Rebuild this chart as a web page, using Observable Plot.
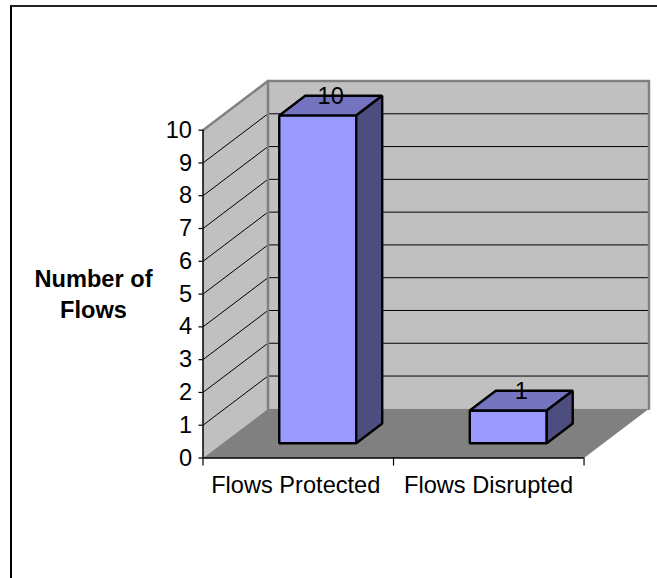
<!DOCTYPE html>
<html>
<head>
<meta charset="utf-8">
<script src="https://cdn.jsdelivr.net/npm/d3@7"></script>
<script src="https://cdn.jsdelivr.net/npm/@observablehq/plot@0.6"></script>
<style>
  html, body { margin: 0; padding: 0; background: #fff; overflow: hidden; }
  #chart-area { position: relative; width: 657px; height: 578px; overflow: hidden; }
  #chart-border { position: absolute; left: 10px; top: 5px; width: 700px; height: 700px;
    border-left: 2px solid #000; border-top: 2px solid #222; }
  #chart-area svg { position: absolute; left: 0; top: 0; }
</style>
</head>
<body>
<div id="chart-area"><div id="chart-border"></div></div>
<script>
const categories = ["Flows Protected", "Flows Disrupted"];
const values = [10, 1];
const valueTicks = [0, 1, 2, 3, 4, 5, 6, 7, 8, 9, 10];
const gridValues = [1, 2, 3, 4, 5, 6, 7, 8, 9];
const categoryEdges = [0, 1, 2];
const categoryCentres = [0.487, 1.499];

// Oblique projection: depth z in 0..1 shifts a point right and up, in data units.
const depthX = 0.341;
const depthY = 1.5;
const yMax = 10;
const xMax = categories.length;
const barInset = 0.298;
const barNear = 0.3;
const barFar = 0.7;

const P = (c, v, z = 0) => ({x: c + z * depthX, y: v + z * depthY});

const wallFill = "#c0c0c0";
const wallEdge = "#808080";
const floorFill = "#808080";
const frontFill = "#9999ff";
const topFill = "#7373bf";
const sideFill = "#4d4d80";
const labelSize = 23.6;

const face = (points, fill, options = {}) =>
  Plot.line(points, {x: "x", y: "y", fill, curve: "linear-closed", strokeLinejoin: "miter", ...options});
const seg = (points, stroke, strokeWidth) =>
  Plot.line(points, {x: "x", y: "y", stroke, strokeWidth, curve: "linear"});

const barMarks = categories.flatMap((_, i) => {
  const a = i + barInset, b = i + 1 - barInset, v = values[i];
  const outline = {stroke: "#000", strokeWidth: 2.4};
  return [
    face([P(a, 0, barNear), P(b, 0, barNear), P(b, v, barNear), P(a, v, barNear)], frontFill, outline),
    face([P(a, v, barNear), P(b, v, barNear), P(b, v, barFar), P(a, v, barFar)], topFill, outline),
    face([P(b, 0, barNear), P(b, 0, barFar), P(b, v, barFar), P(b, v, barNear)], sideFill, outline)
  ];
});

const barLabels = categories.map((_, i) => ({
  ...P(i + 0.5, values[i], (barNear + barFar) / 2),
  label: String(values[i])
}));

const chart = Plot.plot({
  width: 657,
  height: 578,
  marginLeft: 202.5,
  marginRight: 8.5,
  marginTop: 80.5,
  marginBottom: 120.5,
  style: {background: "transparent", fontFamily: "'Liberation Sans', Arial, sans-serif", color: "#000", overflow: "visible"},
  x: {type: "linear", domain: [0, xMax + depthX]},
  y: {type: "linear", domain: [0, yMax + depthY]},
  marks: [
    // walls and floor
    face([P(0, 0, 1), P(xMax, 0, 1), P(xMax, yMax, 1), P(0, yMax, 1)], wallFill),
    face([P(0, 0, 0), P(0, 0, 1), P(0, yMax, 1), P(0, yMax, 0)], wallFill),
    face([P(0, 0, 0), P(xMax, 0, 0), P(xMax, 0, 1), P(0, 0, 1)], floorFill),
    // gridlines run along the side wall and across the back wall
    Plot.link(gridValues, {x1: () => P(0, 0, 0).x, x2: () => P(0, 0, 1).x, y1: v => P(0, v, 0).y, y2: v => P(0, v, 1).y, stroke: "#000", strokeWidth: 1}),
    Plot.link(gridValues, {x1: () => P(0, 0, 1).x, x2: () => P(xMax, 0, 1).x, y1: v => P(0, v, 1).y, y2: v => P(0, v, 1).y, stroke: "#000", strokeWidth: 1}),
    // wall edges
    seg([P(0, yMax, 0), P(0, yMax, 1), P(xMax, yMax, 1), P(xMax, 0, 1)], wallEdge, 2.5),
    seg([P(0, 0, 1), P(0, yMax, 1)], wallEdge, 2.5),
    // axes
    Plot.ruleX([0], {y1: 0, y2: yMax, stroke: "#000", strokeWidth: 1.5}),
    Plot.ruleY([0], {x1: 0, x2: xMax, stroke: "#000", strokeWidth: 1.5}),
    Plot.axisY(valueTicks, {anchor: "left", label: null, tickSize: 4, tickPadding: 7, fontSize: labelSize, strokeWidth: 1.2}),
    Plot.axisX(categoryEdges, {anchor: "bottom", label: null, tickSize: 8, tickFormat: () => "", strokeWidth: 1.2}),
    Plot.axisX(categoryCentres, {anchor: "bottom", label: null, tickSize: 0, tickPadding: 18, fontSize: labelSize, tickFormat: c => categories[Math.floor(c)]}),
    // bars and their value labels
    ...barMarks,
    Plot.text(barLabels, {x: "x", y: "y", text: "label", dy: -9, fontSize: labelSize, fill: "#000"}),
    // axis title
    Plot.text(["Number of\nFlows"], {frameAnchor: "left", textAnchor: "middle", dx: -109.5, dy: -1.5, y: () => yMax / 2, fontSize: labelSize, fontWeight: "bold", lineHeight: 1.29, fill: "#000"})
  ]
});

document.getElementById("chart-area").appendChild(chart);
</script>
</body>
</html>
